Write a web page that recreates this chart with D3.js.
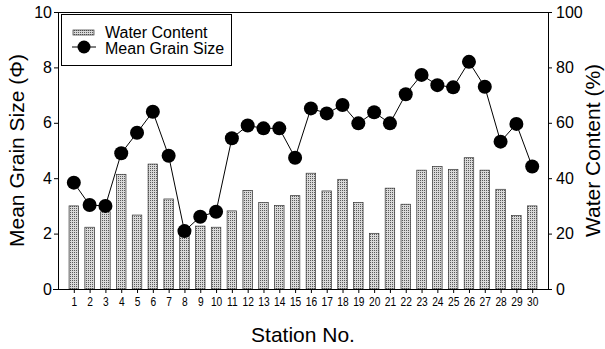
<!DOCTYPE html>
<html>
<head>
<meta charset="utf-8">
<script src="https://cdn.jsdelivr.net/npm/d3@7"></script>
<style>
body { margin: 0; background: #fff; }
text { font-family: "Liberation Sans", Arial, sans-serif; fill: #000; }
</style>
</head>
<body>
<div id="myDiv"></div>
<script>
var stations = d3.range(1, 31)
var waterContent = [30, 22.3, 27.9, 41.4, 26.7, 45.1, 32.5, 19.5, 22.7, 22.3,
    28.2, 35.6, 31.2, 30.2, 33.7, 41.8, 35.4, 39.6, 31.2, 20.1,
    36.4, 30.6, 42.9, 44.2, 43.2, 47.4, 42.9, 36.0, 26.5, 30.0]
var grainSize = [3.84, 3.03, 3.0, 4.9, 5.64, 6.4, 4.81, 2.09, 2.61, 2.79,
    5.44, 5.9, 5.8, 5.8, 4.74, 6.52, 6.34, 6.64, 5.98, 6.38,
    5.98, 7.03, 7.73, 7.36, 7.28, 8.2, 7.3, 5.32, 5.96, 4.42]
var leftTicks = [0, 2, 4, 6, 8, 10]
var rightTicks = [0, 20, 40, 60, 80, 100]

var plotL = 58, plotR = 548, plotT = 12, plotB = 289

var svg = d3.select("#myDiv").append("svg")
    .attr("width", 605)
    .attr("height", 349)

// halftone fill for the bars
var pat = svg.append("defs").append("pattern")
    .attr("id", "dots")
    .attr("width", 2).attr("height", 2)
    .attr("patternUnits", "userSpaceOnUse")
pat.append("rect").attr("width", 2).attr("height", 2).attr("fill", "#d9d9d9")
pat.append("rect").attr("width", 1).attr("height", 1).attr("fill", "#5a5a5a")

var x = d3.scaleLinear().domain([0, 31]).range([plotL, plotR])
var yL = d3.scaleLinear().domain([0, 10]).range([plotB, plotT])
var yR = d3.scaleLinear().domain([0, 100]).range([plotB, plotT])

var barW = 9.5

svg.selectAll("rect.bar")
    .data(waterContent)
    .enter()
    .append("rect")
    .attr("class", "bar")
    .attr("x", function(d, i){ return x(stations[i]) - barW / 2 })
    .attr("y", function(d){ return yR(d) })
    .attr("width", barW)
    .attr("height", function(d){ return yR(0) - yR(d) })
    .attr("fill", "url(#dots)")
    .attr("stroke", "#333")
    .attr("stroke-width", 0.7)

// frame top line
svg.append("line")
    .attr("x1", plotL).attr("x2", plotR)
    .attr("y1", plotT + 0.5).attr("y2", plotT + 0.5)
    .attr("stroke", "#000")

var line = d3.line()
    .x(function(d, i){ return x(stations[i]) })
    .y(function(d){ return yL(d) })

svg.append("path")
    .datum(grainSize)
    .attr("d", line)
    .attr("fill", "none")
    .attr("stroke", "#000")
    .attr("stroke-width", 1)

svg.selectAll("circle.pt")
    .data(grainSize)
    .enter()
    .append("circle")
    .attr("class", "pt")
    .attr("cx", function(d, i){ return x(stations[i]) })
    .attr("cy", function(d){ return yL(d) })
    .attr("r", 7)
    .attr("fill", "#000")

// axes
var gL = svg.append("g")
    .attr("transform", "translate(" + plotL + ",0)")
    .call(d3.axisLeft(yL).tickValues(leftTicks).tickSize(4).tickPadding(2))
gL.selectAll("text").style("font-size", "16px")

var gR = svg.append("g")
    .attr("transform", "translate(" + plotR + ",0)")
    .call(d3.axisRight(yR).tickValues(rightTicks).tickSize(4).tickPadding(4))
gR.selectAll("text").style("font-size", "16px")

var gB = svg.append("g")
    .attr("transform", "translate(0," + plotB + ")")
    .call(d3.axisBottom(x).tickValues(stations).tickFormat(d3.format("d")).tickSize(4).tickPadding(4))
gB.selectAll(".tick text")
    .style("font-size", "12px")
    .attr("transform", "scale(0.85,1)")
gB.select(".domain").attr("d", "M" + (plotL - 5) + ",0.5H" + plotR)

svg.selectAll(".domain").attr("stroke", "#000")

// axis titles
svg.append("text")
    .attr("transform", "translate(24," + ((plotT + plotB) / 2) + ") rotate(-90)")
    .attr("text-anchor", "middle")
    .style("font-size", "21px")
    .text("Mean Grain Size (\u03A6)")

svg.append("text")
    .attr("transform", "translate(600," + ((plotT + plotB) / 2) + ") rotate(-90)")
    .attr("text-anchor", "middle")
    .style("font-size", "21px")
    .text("Water Content (%)")

svg.append("text")
    .attr("x", (plotL + plotR) / 2)
    .attr("y", 342)
    .attr("text-anchor", "middle")
    .style("font-size", "21px")
    .text("Station No.")

// legend
var lg = svg.append("g")
lg.append("rect")
    .attr("x", 61.5).attr("y", 14.5)
    .attr("width", 170).attr("height", 51)
    .attr("fill", "#fff").attr("stroke", "#000")
lg.append("rect")
    .attr("x", 73).attr("y", 30)
    .attr("width", 21).attr("height", 5)
    .attr("fill", "url(#dots)").attr("stroke", "#333").attr("stroke-width", 0.7)
lg.append("line")
    .attr("x1", 72).attr("x2", 96).attr("y1", 47).attr("y2", 47)
    .attr("stroke", "#000")
lg.append("circle")
    .attr("cx", 84).attr("cy", 47).attr("r", 6.5).attr("fill", "#000")
lg.append("text").attr("x", 105).attr("y", 38).style("font-size", "16px").text("Water Content")
lg.append("text").attr("x", 105).attr("y", 54).style("font-size", "16px").text("Mean Grain Size")
</script>
</body>
</html>
